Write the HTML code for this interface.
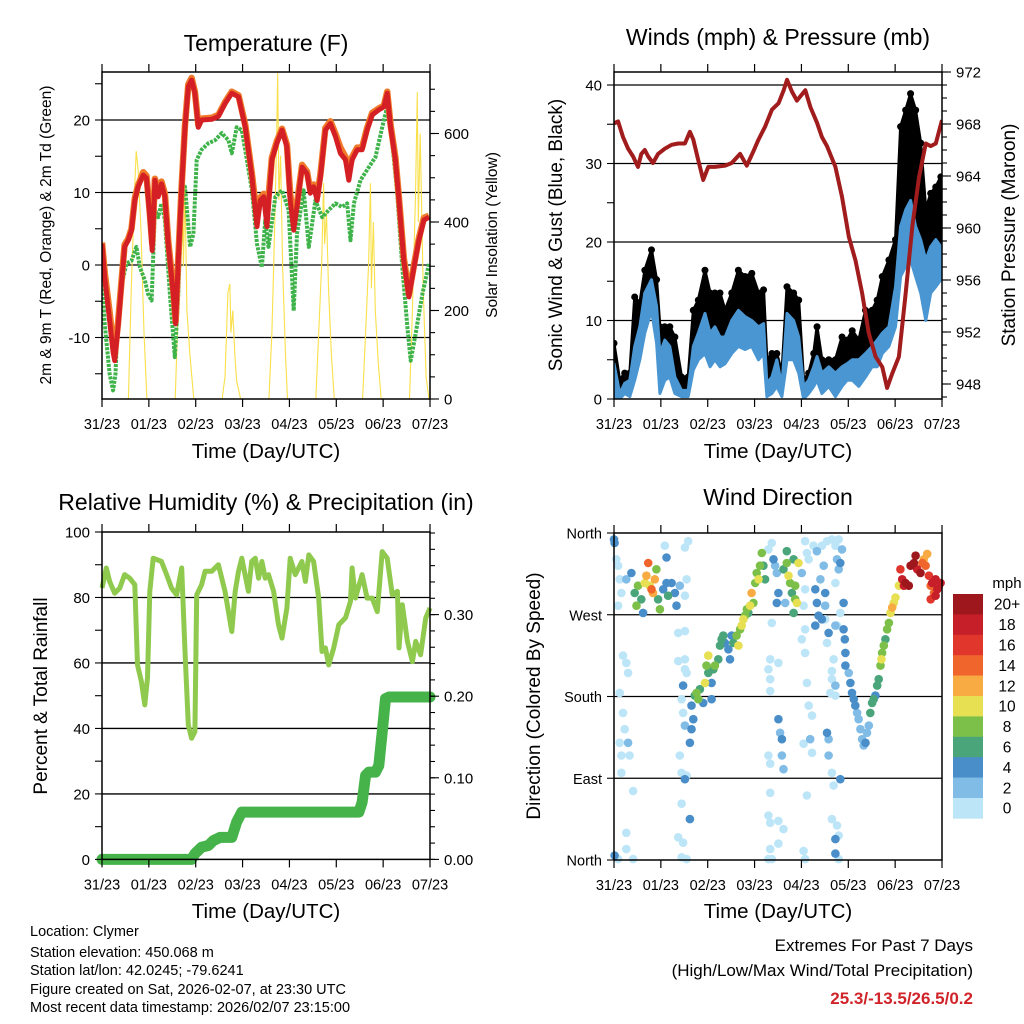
<!DOCTYPE html>
<html><head><meta charset="utf-8">
<style>
html,body{margin:0;padding:0;background:#fff;}
svg{display:block;font-family:"Liberation Sans",sans-serif;}
</style></head>
<body>
<svg id="chart" width="1024" height="1024" viewBox="0 0 1024 1024" xmlns="http://www.w3.org/2000/svg">
<rect width="1024" height="1024" fill="#fff"/>
<g id="p1"></g>
<g id="p2"></g>
<g id="p3"></g>
<g id="p4"></g>
<g id="cb"></g>
<text x="266" y="51" font-size="23" text-anchor="middle">Temperature (F)</text>
<text x="778" y="45" font-size="23" text-anchor="middle">Winds (mph) &amp; Pressure (mb)</text>
<text x="266" y="510" font-size="23" text-anchor="middle">Relative Humidity (%) &amp; Precipitation (in)</text>
<text x="778" y="505" font-size="23" text-anchor="middle">Wind Direction</text>
<text x="266" y="458" font-size="20.5" text-anchor="middle">Time (Day/UTC)</text>
<text x="778" y="458" font-size="20.5" text-anchor="middle">Time (Day/UTC)</text>
<text x="266" y="918" font-size="20.5" text-anchor="middle">Time (Day/UTC)</text>
<text x="778" y="918" font-size="20.5" text-anchor="middle">Time (Day/UTC)</text>
<text transform="translate(51,235) rotate(-90)" font-size="15.5" text-anchor="middle">2m &amp; 9m T (Red, Orange) &amp; 2m Td (Green)</text>
<text transform="translate(497,235) rotate(-90)" font-size="15.5" text-anchor="middle">Solar Insolation (Yellow)</text>
<text transform="translate(562,235) rotate(-90)" font-size="19" text-anchor="middle">Sonic Wind &amp; Gust (Blue, Black)</text>
<text transform="translate(1015,235) rotate(-90)" font-size="19" text-anchor="middle">Station Pressure (Maroon)</text>
<text transform="translate(47,696) rotate(-90)" font-size="19" text-anchor="middle">Percent &amp; Total Rainfall</text>
<text transform="translate(540,696) rotate(-90)" font-size="19" text-anchor="middle">Direction (Colored By Speed)</text>
<g font-size="14.5">
<text x="30" y="936">Location: Clymer</text>
<text x="30" y="957">Station elevation: 450.068 m</text>
<text x="30" y="975">Station lat/lon: 42.0245; -79.6241</text>
<text x="30" y="994">Figure created on Sat, 2026-02-07, at 23:30 UTC</text>
<text x="30" y="1012">Most recent data timestamp: 2026/02/07 23:15:00</text>
</g>
<g text-anchor="end">
<text x="973" y="951" font-size="17">Extremes For Past 7 Days</text>
<text x="973" y="976" font-size="17">(High/Low/Max Wind/Total Precipitation)</text>
<text x="973" y="1004" font-size="17" font-weight="bold" fill="#d0242a">25.3/-13.5/26.5/0.2</text>
</g>
</svg>
<script>
// ---------- DATA ----------
const dayLabels = ["31/23","01/23","02/23","03/23","04/23","05/23","06/23","07/23"];
const tempHours = [0,1.4,3.9,5.7,6.5,8.2,9.9,11.6,13.4,15.1,16.8,18.5,21.1,22.8,24.5,25.7,27.1,28.8,30.5,32.2,33.9,36.5,37.7,39.1,40.8,42.5,44.2,45.9,47.6,49.3,51.0,56.2,59.6,63.1,66.5,69.9,73.4,76.8,79.4,81.1,82.8,84.5,87.0,89.6,92.2,94.7,96.4,98.2,99.9,102.5,105.0,106.7,108.4,110.2,111.9,114.4,117.0,119.6,122.1,124.7,126.4,128.1,130.7,133.2,135.8,138.4,141.8,144.4,146.1,147.8,150.3,152.1,154.6,157.2,159.8,162.3,164.9,167.5];
const temp9m = [2.9,-1.7,-7.6,-12,-13.2,-8.6,-3,2.5,3.4,4.8,8.9,10.8,12.4,12,6.6,2,11.7,9.4,11.2,9.4,2.9,-4,-8.1,0.6,10.8,19,24.6,25.5,23.7,19,20,20.1,20.5,22.3,23.7,23.2,19,12.2,5.3,8.9,9.4,5.3,14.5,16.8,18.6,16.3,8.9,4.8,8,13.5,12.6,9.9,10.8,8.9,12.2,18.6,19.5,17.7,15.4,14.5,11.7,14.5,15.9,15.9,18.6,20.7,21.4,21.8,23.7,19,14.5,8.9,0.6,-4.4,-0.3,3.4,6.2,6.6];
const temp2m = [3.1,-1.0,-6.5,-11,-12.5,-8.0,-2.6,2.8,3.6,5.0,9.2,11.0,12.8,12.3,7.2,3.0,11.9,9.8,11.5,9.8,3.4,-3.5,-7.8,1.0,11.0,19.3,24.9,25.8,23.9,19.3,20.2,20.3,20.7,22.5,23.9,23.4,19.3,12.6,6.5,9.3,9.8,7.0,14.8,17.1,18.8,16.6,9.8,6.0,8.5,13.8,12.9,10.3,11.1,9.5,12.6,18.9,19.8,18.1,16.2,14.9,13.0,14.9,16.2,16.2,18.9,21.0,21.6,22.0,23.9,19.3,14.8,9.2,1.0,-4.0,0.0,3.7,6.5,6.8];
const dewHours = [0,1.4,3.9,5.7,6.9,8.2,9.9,12.5,15.1,17.6,19.4,21.9,23.6,25.4,27.1,28.8,30.5,32.2,34.8,37.3,39.1,40.8,42.5,45.1,46.8,48.5,51.0,54.5,57.9,61.3,64.8,66.5,69.0,71.6,74.2,76.8,79.4,81.9,83.6,85.3,88.8,92.2,95.6,98.2,99.9,103.3,105.9,109.3,112.8,116.2,119.6,123.0,125.6,127.3,129.0,132.4,136.7,140.1,143.5,146.1,148.7,151.2,153.8,156.4,158.1,160.6,164.1,167.5];
const dewpoint = [-2.1,-8.1,-15,-17.3,-15,-6.7,-3,0.2,0.6,2.5,-0.3,-2.1,-4,-4.9,7.6,6.6,8.5,6.2,-4,-12.7,-4,8.9,10.8,2.5,4.3,14.5,15.9,16.8,17.2,18.2,17.2,15.4,19,18.6,14.5,10.3,2.9,-0.3,6.2,2.5,9.4,10.3,7.6,-6.3,4.3,10.3,2.5,8.9,6.6,7.6,8.5,8,8.5,3.4,8.5,11.7,13.5,14.9,19,21.8,16.8,9.9,-0.3,-8.6,-13.2,-9.5,-4,0.2];
const solarHours = [13.5,15,16.5,17.5,18.5,20,21.5,23, 37.5,39,40,41,41.7,42.5,43.5,45,47, 61.5,63,64.5,65.5,66,67,68,69,71, 85.5,87,88.5,89.5,90,90.6,91.5,92.5,94,95, 109.5,111,112.5,113.5,114,115,116,117.5,119, 133.5,135,136.5,137.5,138,139,140,141.5,143, 157.5,159,160.5,161.5,162,163,164.5,166,167.5];
const solarValues = [0,250,450,560,520,380,150,0, 0,200,380,560,300,480,200,100,0, 0,50,240,260,150,200,100,40,0, 0,150,400,600,737,450,550,300,100,0, 0,150,300,488,350,420,250,100,0, 0,150,300,488,250,400,200,80,0, 0,200,450,694,400,600,250,50,0];
const presHours = [0,2.1,4.6,7.2,9.8,12.3,14.0,15.8,17.5,20.0,22.6,26.0,29.5,32.9,36.3,38.9,40.6,43.2,45.7,48.3,51.7,56.9,60.3,64.6,68.0,71.4,74.0,77.4,80.9,84.3,86.9,88.6,91.1,93.7,98.0,100.6,104.0,106.5,109.1,113.4,116.8,120.3,123.7,127.1,130.5,134.0,137.4,139.9,142.5,145.9,149.4,152.8,156.2,159.7,162.2,164.8,168];
const pressure = [968.05,968.2,967.0,966.1,965.5,964.7,965.7,966.0,965.5,965.0,965.7,966.1,966.4,966.5,966.5,967.4,966.8,965.2,963.7,964.7,964.7,964.8,965.0,965.7,964.8,965.9,966.8,967.8,969.1,969.6,970.6,971.4,970.5,969.8,970.6,969.3,968.1,967.0,966.3,964.7,962.4,959.3,957.5,955.0,951.9,950.1,949.3,947.7,948.8,950.1,955.0,960.1,963.9,966.5,966.3,966.5,968.3];
const windHours = [0,2.9,5.5,8.1,10.6,13.2,15.8,19.2,21.8,23.5,26.0,28.6,31.2,34.6,38.0,40.6,43.2,46.6,49.2,51.7,54.3,56.9,60.3,63.7,67.1,70.6,74.0,76.6,78.3,80.9,83.4,86.0,88.6,92.0,94.6,97.1,99.7,102.3,104.0,106.5,110.0,113.4,116.8,119.4,122.0,125.4,128.8,132.2,134.8,137.4,140.8,144.2,146.8,149.4,151.9,154.5,157.1,159.7,162.2,164.8,167.4];
const windLow = [0.3,0,0.7,0.3,2.4,5,8.4,11.3,7.1,0.7,2.4,2.8,0.7,0.3,0.3,3.7,5,5.8,4.1,5,4.1,4.5,5.8,6.7,6.3,6.7,5,5.8,0.3,0.7,1.6,0.3,5,5,3.3,0,0.7,1.6,2.4,0.7,1.6,0.3,1.6,2.4,2.4,1.6,2.8,4.1,4.1,5.8,6.7,9.2,15.6,16.9,17.7,15.6,13.5,10,13.5,14.3,15.2];
const windSpeed = [4.5,0.7,2,2.4,6.7,9.2,13.5,15.2,11.8,5.8,7.5,6.7,2.8,1.1,1.1,6.7,8.4,10.9,8.4,9.2,7.9,7.9,10,11.3,10.5,10,9.2,9.6,2,2.8,5,1.6,10.9,10,7.9,1.6,2.4,4.1,5.4,3.3,4.1,3.3,4.1,4.5,5,5,5.8,6.7,7.5,8.4,9.2,14.3,22,24.1,25.3,22,20.3,17.7,19.4,20.3,19.4];
const windGust = [7.1,2.4,3.3,3.3,13,12.2,16.4,19,15.2,9.2,9.2,9.2,7.9,2.8,2.8,11.3,12.6,16.4,13.5,13.5,13.5,11.3,13.5,16.4,15.6,16,13.5,13.9,5,5.8,5.8,3.3,14.3,13.5,12.6,2.4,3.3,5.8,9.2,5,5,5,7.9,7.5,8.7,7.5,11.3,11.3,12.6,15.6,17.7,20.3,34.7,36.8,38.9,36.8,32.6,24.1,26.2,27,28.3];
const rhHours = [0,2.2,3.9,6.5,9.1,11.6,14.2,16.8,18.2,20.2,21.9,23.3,24.5,26.2,30.5,33.1,35.6,38.2,40.8,42.5,44.2,45.9,47.6,48.5,51.0,52.8,56.2,59.6,63.0,66.5,68.2,69.9,71.6,75.0,76.7,78.5,80.2,81.9,83.6,85.3,87.9,90.4,92.2,94.7,96.4,99.0,102.4,104.2,105.9,108.4,111.0,112.7,114.4,116.1,118.7,121.3,124.7,127.3,128.1,129.8,133.2,135.8,138.4,141.0,143.5,146.1,148.7,151.3,152.1,153.8,156.4,159.0,160.7,163.2,165.8,168];
const relHumidity = [82.9,89,84.9,81.3,82.9,87,85.9,83.9,59.4,54.3,47.2,55.4,81.9,92,91,87,82.9,80.8,89,63.5,41.1,37,39,80.8,83.9,88,88,90,81.9,69.6,81.9,88,92,81.9,91,92,85.9,91,85.9,87,81.9,71.7,67.6,76.8,92,87,91,84.9,93,91,79.8,63.5,64.6,59.4,64.6,71.7,73.8,78.8,89,79.8,87,79.8,79.8,75.7,94,92,80.8,81.9,64.6,77.8,66.6,60.4,66.6,62.5,73.7,76.8];
const precipHours = [0,45.9,47.6,51.0,54.5,57.0,60.5,66.5,69.0,71.6,131.6,133.2,135.0,136.7,140.1,141.8,143.5,145.2,147.0,168];
const precipTotal = [0,0,0.007,0.015,0.017,0.023,0.027,0.027,0.046,0.058,0.058,0.07,0.103,0.107,0.107,0.115,0.156,0.197,0.199,0.199];
const dirHours = [0,0.3,1.2,2.1,2.9,3.8,2.1,4.6,6.3,7.2,2.9,4.6,5.5,2.9,3.8,7.2,8.0,3.8,9.8,6.3,6.3,0.3,2.1,9.8,6.3,8.9,10.6,11.5,12.3,14.0,14.9,15.8,16.6,17.5,18.3,19.2,20.0,20.9,21.7,22.6,23.5,25.2,26.9,27.7,29.5,31.2,32.0,33.7,36.3,37.2,26.0,26.9,36.3,38.0,32.9,36.3,32.9,36.3,36.3,37.2,35.4,34.6,35.4,36.3,33.7,34.6,36.3,37.2,34.6,38.9,32.9,35.4,34.6,37.2,
38.9,39.7,40.6,39.7,41.4,42.3,43.2,44.0,45.7,46.6,47.4,48.3,48.3,50.0,50.0,50.9,51.7,53.4,54.3,55.1,56.0,56.8,58.6,59.4,60.3,61.1,62.8,63.7,64.6,65.4,66.3,67.1,68.0,68.8,69.7,70.5,71.4,72.3,73.1,74.0,74.8,75.7,76.5,77.4,
79.1,80.8,81.7,82.5,83.4,84.2,83.4,80.8,80.0,79.1,80.0,80.0,84.2,84.2,85.1,86.0,86.0,86.8,79.1,80.0,80.0,79.1,80.0,84.2,86.8,84.2,80.0,79.1,80.8,
86.8,88.5,88.5,89.4,90.2,91.1,92.0,92.8,92.8,93.7,94.5,92.0,87.7,96.2,
97.9,98.8,99.7,97.9,97.1,97.9,96.2,97.9,98.8,99.7,101.4,97.1,100.5,101.4,98.8,97.1,97.9,
102.2,103.9,103.1,103.9,104.8,103.1,105.7,107.4,108.2,108.2,106.5,108.2,109.9,109.1,109.1,109.9,109.9,110.8,111.6,113.4,113.4,111.6,112.5,106.5,109.1,111.6,113.4,115.1,116.8,114.2,115.1,115.9,113.4,114.2,115.9,113.4,111.6,112.5,111.6,114.2,115.1,113.4,113.4,115.1,115.9,
117.6,117.6,118.2,118.5,118.5,120.2,121.1,121.9,122.8,123.6,124.5,125.3,126.2,127.1,127.9,128.8,129.6,130.5,
131.3,132.2,133.0,133.9,134.8,135.6,136.5,137.0,137.3,138.2,139.0,139.9,140.8,141.6,142.5,143.3,144.2,145.9,
146.7,147.6,148.5,149.3,151.0,151.9,153.6,154.5,155.3,157.0,157.9,158.7,159.6,160.4,161.3,162.2,163.0,163.9,164.7,165.6,166.4,167.3,164.7,162.2];
const dirDegrees = [353,349,331,324,309,294,280,225,217,206,184,162,144,129,115,129,115,96,76,30,12,5,1,1,309,316,294,280,302,287,272,305,313,327,302,298,294,309,320,287,276,298,305,291,305,294,280,302,291,309,346,333,344,351,250,252,219,221,210,206,192,177,162,148,115,96,89,93,62,45,25,19,3,1,
129,144,155,170,181,184,177,188,173,195,214,206,225,177,195,210,214,221,236,243,247,239,232,221,247,239,247,236,254,258,265,269,276,272,280,294,283,305,316,309,324,338,324,309,
342,349,331,324,316,294,283,261,221,210,199,186,217,155,140,133,115,100,115,106,74,49,41,43,34,18,12,1,1,
320,327,340,313,305,294,331,302,287,283,327,272,283,316,
351,338,331,298,280,254,243,228,195,170,159,128,133,118,71,10,1,
346,340,298,283,269,258,309,324,294,280,265,265,250,239,140,133,115,184,199,192,181,208,221,346,351,353,346,353,342,331,320,327,305,258,272,258,96,82,45,38,27,23,7,1,89,
283,254,243,228,214,206,195,184,177,170,162,155,144,133,126,129,140,148,
162,173,177,181,192,199,214,221,228,236,243,254,261,272,278,283,289,302,
320,309,302,305,302,324,327,335,320,316,327,331,324,337,313,302,305,294,309,298,302,305,291,287];
const dirSpeed = [4,4,0,0,0,0,0,0,0,0,0,0,0,0,0,2,0,0,0,0,0,4,0,0,2,4,6,8,8,6,4,10,12,14,10,14,12,12,8,6,8,4,4,6,4,4,4,2,0,0,0,4,0,0,0,0,0,0,0,0,4,0,0,2,0,0,4,0,0,4,0,0,0,0,
4,4,4,4,6,8,8,6,4,10,8,6,10,4,4,6,8,6,6,6,6,4,4,4,4,6,8,10,8,10,10,8,8,6,10,12,8,8,8,10,8,8,6,6,
0,0,4,2,2,4,4,0,0,0,0,0,0,4,2,4,2,2,0,0,0,0,0,0,0,0,0,0,0,
6,8,6,10,8,6,6,8,8,10,10,6,2,2,
0,0,0,0,0,0,0,0,0,0,0,0,2,0,0,0,0,
0,2,4,4,4,4,2,2,4,2,4,0,4,0,4,2,2,0,0,2,0,0,0,0,0,0,0,0,2,2,2,4,0,0,0,2,0,0,0,0,0,4,4,0,4,
4,4,4,4,4,2,4,4,4,4,2,2,2,2,2,4,2,2,
6,6,6,4,6,6,8,10,8,8,6,8,8,10,12,10,10,10,
16,18,18,20,20,20,20,20,18,20,14,12,14,12,16,14,18,14,18,18,16,18,18,16];
const speedLevels = ["0","2","4","6","8","10","12","14","16","18","20+"];
const speedColors = ["#bde5f8","#80bce6","#4a8ec9","#4aa57a","#7cc04a","#e6e052","#f8ab42","#f0652c","#e0362c","#c61f2a","#9d171d"];

// ---------- HELPERS ----------
const NS = "http://www.w3.org/2000/svg";
function mk(parent, tag, attrs){ const e=document.createElementNS(NS,tag); for(const k in attrs) e.setAttribute(k,attrs[k]); parent.appendChild(e); return e; }
function txt(parent, x, y, s, size, anchor){ const t=mk(parent,"text",{x:x,y:y,"font-size":size,"text-anchor":anchor}); t.textContent=s; return t; }
function pathFrom(xs, ys, fx, fy){ const n=Math.min(xs.length, ys.length); let d=""; for(let i=0;i<n;i++){ d+=(i?"L":"M")+fx(xs[i]).toFixed(1)+","+fy(ys[i]).toFixed(1); } return d; }

function frame(g, L, T, R, B, gridVals, fy, prefix){
  for(const v of gridVals){
    const gl=mk(g,"line",{x1:L,x2:R,y1:fy(v),y2:fy(v),stroke:"#000","stroke-width":1.3});
    
    
  }
}
function border(g, L, T, R, B, prefix){
  const r=mk(g,"rect",{x:L,y:T,width:R-L,height:B-T,fill:"none",stroke:"#000","stroke-width":1.5});
  
  
}
function xAxis(g, fx, T, B, prefix){
  for(let d=0; d<dayLabels.length; d++){
    const x=fx(d*24);
    mk(g,"line",{x1:x,x2:x,y1:B,y2:B+8,stroke:"#000","stroke-width":1.2});
    mk(g,"line",{x1:x,x2:x,y1:T,y2:T-8,stroke:"#000","stroke-width":1.2});
    const t=txt(g,x,B+30,dayLabels[d],14.5,"middle");
    
    
  }
}
function yTicks(g, x, side, vals, fy, len, labelFn, size){
  for(const v of vals){
    const y=fy(v);
    mk(g,"line",{x1:x,x2:x+side*len,y1:y,y2:y,stroke:"#000","stroke-width":1.1});
    if(labelFn){
      const s=labelFn(v);
      if(s!==null){
        const t=txt(g, x+side*(len+5), y+5.5, s, size||15, side<0?"end":"start");
        
        
      }
    }
  }
}
function range(a,b,s){ const r=[]; for(let v=a; v<=b+1e-9; v+=s) r.push(Math.round(v*1000)/1000); return r; }

// ---------- PANEL 1 : TEMPERATURE ----------
(function(){
  const g=document.getElementById("p1");
  const L=102,R=430,T=72,B=399;
  const fx=h=>L+h*(R-L)/168;
  const fy=t=>265-7.25*t;
  const fs=w=>399-w*0.4425;
  frame(g,L,T,R,B,[-10,0,10,20],fy,"temp");
  const clip=mk(g,"clipPath",{id:"c1"}); mk(clip,"rect",{x:L,y:T,width:R-L,height:B-T});
  const pg=mk(g,"g",{"clip-path":"url(#c1)"});
  const sol=mk(pg,"path",{d:pathFrom(solarHours,solarValues,fx,fs),fill:"none",stroke:"#f9e04a","stroke-width":1.1});
  
  
  const dew=mk(pg,"path",{d:pathFrom(dewHours,dewpoint,fx,fy),fill:"none",stroke:"#3eb34a","stroke-width":4,"stroke-dasharray":"3 1.2","stroke-linejoin":"round"});
  
  
  const t2=mk(pg,"path",{d:pathFrom(tempHours,temp2m,fx,fy),fill:"none",stroke:"#f07a2a","stroke-width":6.5,"stroke-linejoin":"round"});
  
  
  const t9=mk(pg,"path",{d:pathFrom(tempHours,temp9m,fx,fy),fill:"none",stroke:"#d42024","stroke-width":5,"stroke-linejoin":"round"});
  
  
  border(g,L,T,R,B,"temp");
  xAxis(g,fx,T,B,"temp");
  yTicks(g,L,-1,range(-15,25,5),fy,7,v=>(v%10===0)?String(v):null);
  yTicks(g,R,1,range(0,700,50),fs,5,null);
  yTicks(g,R,1,range(0,600,200),fs,9,v=>String(v));
})();

// ---------- PANEL 2 : WINDS & PRESSURE ----------
(function(){
  const g=document.getElementById("p2");
  const L=614,R=942,T=72,B=399;
  const fx=h=>L+h*(R-L)/168;
  const fy=m=>399-m*7.85;
  const fp=p=>124+(968-p)*13;
  frame(g,L,T,R,B,[10,20,30,40],fy,"winds");
  const clip=mk(g,"clipPath",{id:"c2"}); mk(clip,"rect",{x:L,y:T,width:R-L,height:B-T});
  const pg=mk(g,"g",{"clip-path":"url(#c2)"});
  const n=Math.min(windHours.length,windLow.length,windSpeed.length,windGust.length);
  let dg="", db="";
  for(let i=0;i<n;i++) dg+=(i?"L":"M")+fx(windHours[i]).toFixed(1)+","+fy(windGust[i]).toFixed(1);
  for(let i=n-1;i>=0;i--) dg+="L"+fx(windHours[i]).toFixed(1)+","+fy(windSpeed[i]).toFixed(1);
  const gust=mk(pg,"path",{d:dg+"Z",fill:"#000",stroke:"#000","stroke-width":3,"stroke-linejoin":"round"});
  
  
  for(let i=0;i<n;i++){
    const c=mk(pg,"circle",{cx:fx(windHours[i]),cy:fy(windGust[i]),r:3.5,fill:"#000"});
    
    
  }
  for(let i=0;i<n;i++) db+=(i?"L":"M")+fx(windHours[i]).toFixed(1)+","+fy(windSpeed[i]).toFixed(1);
  for(let i=n-1;i>=0;i--) db+="L"+fx(windHours[i]).toFixed(1)+","+fy(windLow[i]).toFixed(1);
  const ws=mk(pg,"path",{d:db+"Z",fill:"#4a96d2",stroke:"#4a96d2","stroke-width":3,"stroke-linejoin":"round"});
  
  
  const pr=mk(pg,"path",{d:pathFrom(presHours,pressure,fx,fp),fill:"none",stroke:"#a11c1c","stroke-width":4,"stroke-linejoin":"round"});
  
  
  border(g,L,T,R,B,"winds");
  xAxis(g,fx,T,B,"winds");
  yTicks(g,L,-1,range(0,40,5),fy,7,v=>(v%10===0)?String(v):null);
  yTicks(g,R,1,range(947,972,1),fp,5,null);
  yTicks(g,R,1,range(948,972,4),fp,9,v=>String(v));
})();

// ---------- PANEL 3 : HUMIDITY & PRECIP ----------
(function(){
  const g=document.getElementById("p3");
  const L=102,R=430,T=532,B=859.4;
  const fx=h=>L+h*(R-L)/168;
  const fy=r=>859.4-r*3.274;
  const fpr=p=>859.4-p*816;
  frame(g,L,T,R,B,[20,40,60,80],fy,"humidity");
  const clip=mk(g,"clipPath",{id:"c3"}); mk(clip,"rect",{x:L-6,y:T,width:R-L+12,height:B-T+7});
  const pg=mk(g,"g",{"clip-path":"url(#c3)"});
  const rh=mk(pg,"path",{d:pathFrom(rhHours,relHumidity,fx,fy),fill:"none",stroke:"#8fca4e","stroke-width":5,"stroke-linejoin":"round"});
  
  
  const pc=mk(pg,"path",{d:pathFrom(precipHours,precipTotal,fx,fpr),fill:"none",stroke:"#46b34a","stroke-width":11,"stroke-linejoin":"round","stroke-linecap":"round"});
  
  
  border(g,L,T,R,B,"humidity");
  xAxis(g,fx,T,B,"humidity");
  yTicks(g,L,-1,range(0,100,10),fy,7,v=>(v%20===0)?String(v):null);
  yTicks(g,R,1,range(0,0.4,0.02),fpr,5,null);
  yTicks(g,R,1,range(0,0.3,0.1),fpr,9,v=>v.toFixed(2));
})();

// ---------- PANEL 4 : WIND DIRECTION ----------
(function(){
  const g=document.getElementById("p4");
  const L=614,R=942,T=533,B=860;
  const fx=h=>L+h*(R-L)/168;
  const fy=d=>860-d*327/360;
  frame(g,L,T,R,B,[90,180,270],fy,"direction");
  const n=Math.min(dirHours.length,dirDegrees.length,dirSpeed.length);
  const order=[...Array(n).keys()].sort((a,b)=>dirSpeed[a]-dirSpeed[b]);
  for(const i of order){
    const idx=Math.min(10,Math.floor(dirSpeed[i]/2));
    const c=mk(g,"circle",{cx:fx(dirHours[i]).toFixed(1),cy:fy(dirDegrees[i]).toFixed(1),r:4.3,fill:speedColors[idx]});
    
    
  }
  border(g,L,T,R,B,"direction");
  xAxis(g,fx,T,B,"direction");
  const names=["North","East","South","West","North"];
  yTicks(g,L,-1,[0,90,180,270,360],fy,7,v=>names[v/90],14.5);
})();

// ---------- COLORBAR ----------
(function(){
  const g=document.getElementById("cb");
  const x=953,w=30,top=594,h=20.4;
  const title=txt(g,1007,588,"mph",15,"middle");
  
  
  for(let k=0;k<speedLevels.length;k++){
    const idx=speedLevels.length-1-k;
    const r=mk(g,"rect",{x:x,y:top+k*h,width:w,height:h+0.3,fill:speedColors[idx]});
    
    
    const t=txt(g,1007,top+k*h+h/2+5.5,speedLevels[idx],15.5,"middle");
    
    
  }
})();
</script>
</body></html>
